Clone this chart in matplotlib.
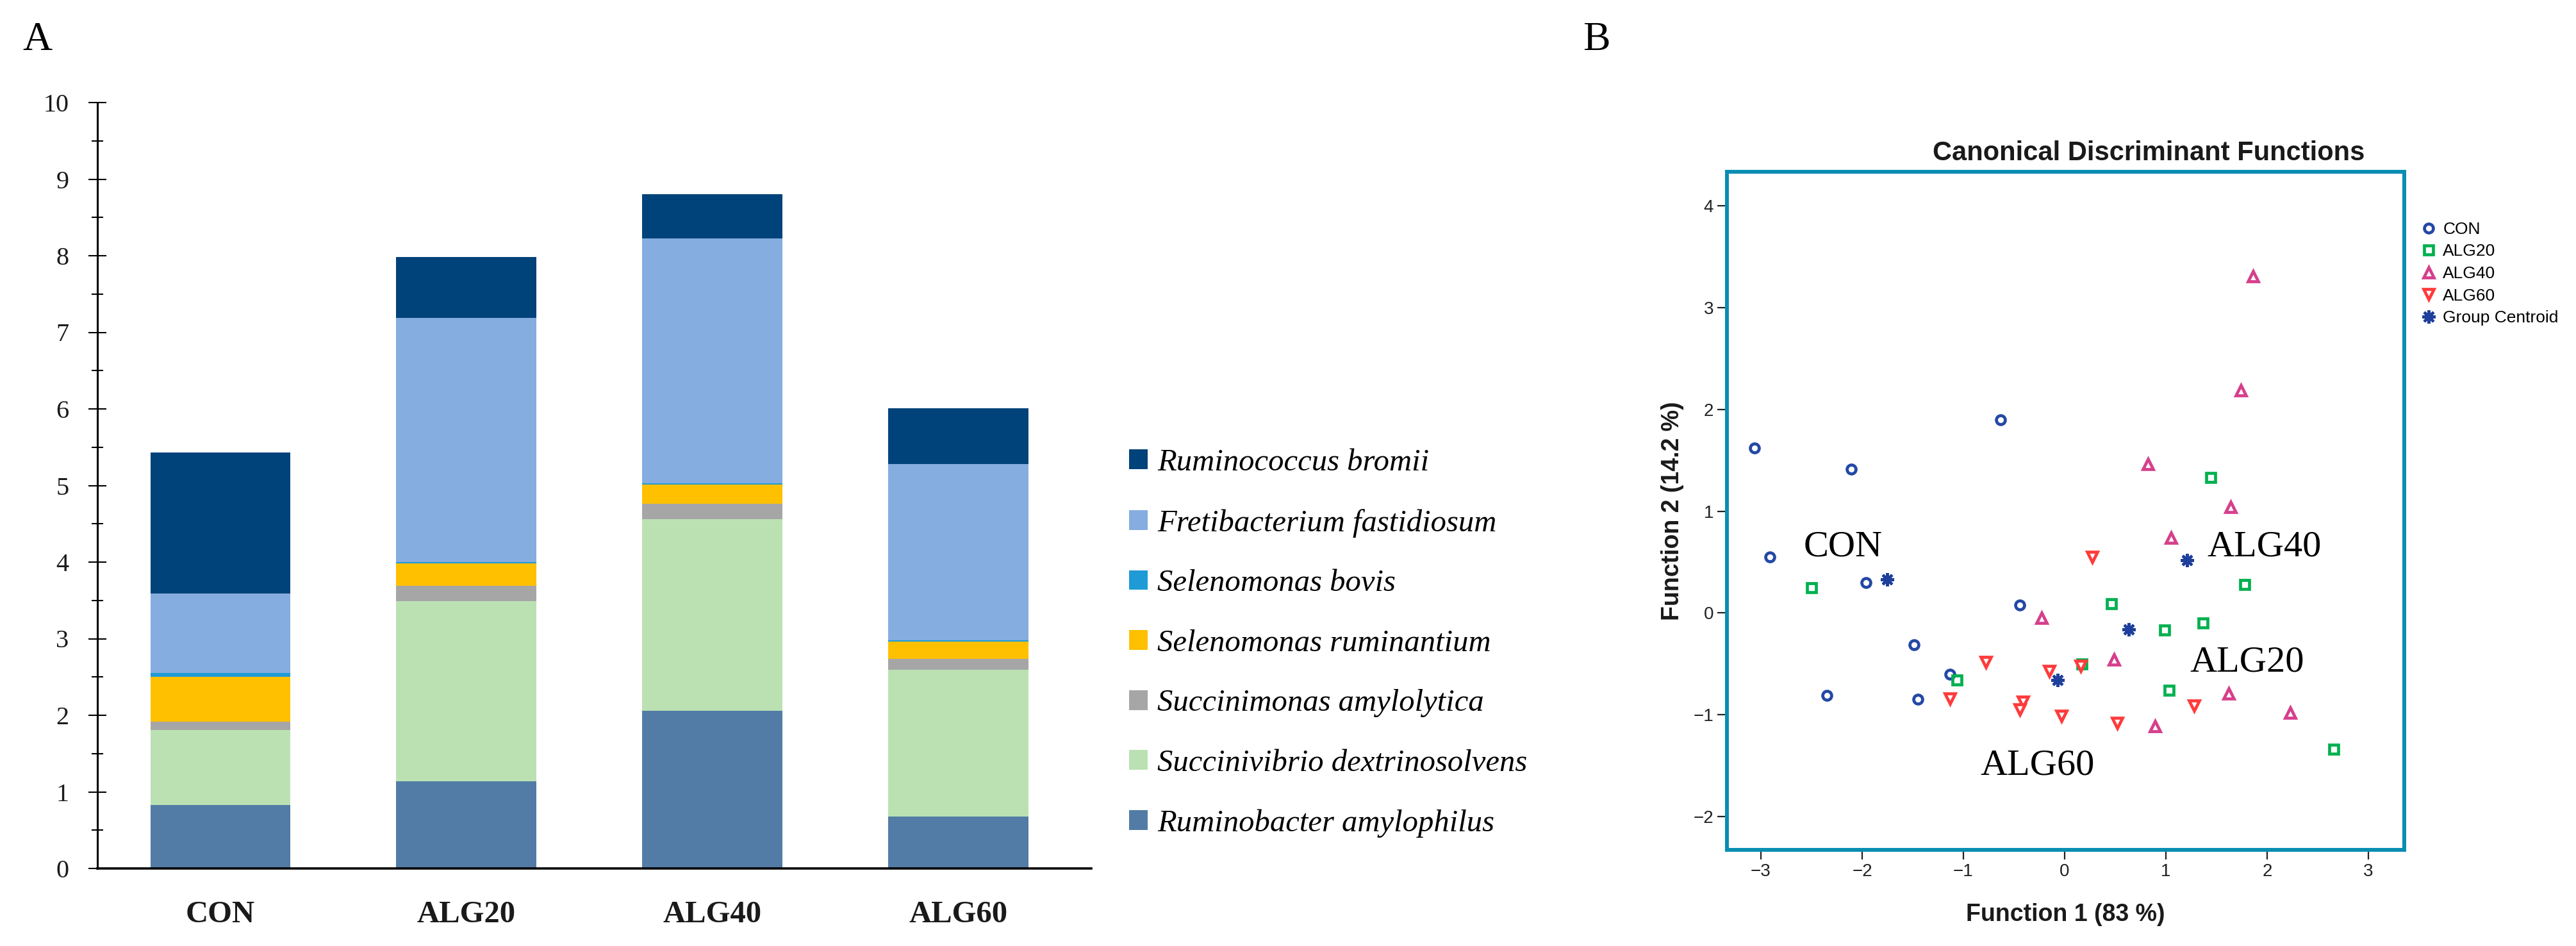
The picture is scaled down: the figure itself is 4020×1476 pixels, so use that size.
import numpy as np
import matplotlib
matplotlib.use("Agg")
import matplotlib.pyplot as plt
from matplotlib.patches import Patch
from matplotlib.lines import Line2D
from matplotlib.ticker import MultipleLocator

# ---- panel A: stacked abundance of selected rumen species ----
groups = ["CON", "ALG20", "ALG40", "ALG60"]
species = ["Ruminobacter amylophilus", "Succinivibrio dextrinosolvens",
           "Succinimonas amylolytica", "Selenomonas ruminantium",
           "Selenomonas bovis", "Fretibacterium fastidiosum", "Ruminococcus bromii"]
r_amylophilus = [0.83, 1.14, 2.06, 0.68]
s_dextrinosolvens = [0.98, 2.35, 2.50, 1.91]
s_amylolytica = [0.11, 0.20, 0.20, 0.15]
s_ruminantium = [0.58, 0.29, 0.25, 0.22]
s_bovis = [0.05, 0.02, 0.02, 0.02]
f_fastidiosum = [1.04, 3.19, 3.20, 2.30]
r_bromii = [1.84, 0.79, 0.57, 0.73]
species_colors = ["#527ca6", "#bbe1b3", "#a6a6a6", "#ffc000",
                  "#1e9bd7", "#85addf", "#00427a"]

# ---- panel B: canonical discriminant scores (function 1, function 2) ----
con_f1 = [-3.06, -2.11, -0.63, -2.91, -1.96, -0.44, -1.49, -1.13, -2.35, -1.45]
con_f2 = [1.62, 1.41, 1.90, 0.55, 0.30, 0.08, -0.31, -0.60, -0.81, -0.85]
alg20_f1 = [-2.50, 1.44, 1.78, 0.46, 1.37, 0.99, 0.17, -1.06, 1.03, 2.66]
alg20_f2 = [0.25, 1.33, 0.28, 0.09, -0.10, -0.17, -0.50, -0.66, -0.76, -1.34]
alg40_f1 = [1.86, 1.74, 0.82, 1.64, 1.05, -0.23, 0.49, 1.62, 2.23, 0.89]
alg40_f2 = [3.31, 2.19, 1.46, 1.04, 0.74, -0.05, -0.46, -0.79, -0.98, -1.11]
alg60_f1 = [0.27, -0.78, -0.15, 0.16, -1.13, -0.41, -0.44, -0.03, 0.52, 1.28]
alg60_f2 = [0.55, -0.48, -0.57, -0.52, -0.84, -0.87, -0.95, -1.01, -1.08, -0.91]
centroid_f1 = [-1.75, 0.63, 1.21, -0.07]
centroid_f2 = [0.33, -0.16, 0.52, -0.66]
group_labels = ["CON", "ALG40", "ALG20", "ALG60"]
label_f1 = [-2.19, 1.97, 1.80, -0.27]
label_f2 = [0.56, 0.56, -0.575, -1.59]

plt.rcParams["font.family"] = ["Liberation Serif", "DejaVu Serif"]

W, H = 4020, 1476
fig = plt.figure(figsize=(W / 100, H / 100), dpi=100)

# panel A
ax = fig.add_axes([152 / W, 1 - 1355 / H, 1551 / W, 1195 / H])
series = [r_amylophilus, s_dextrinosolvens, s_amylolytica, s_ruminantium,
          s_bovis, f_fastidiosum, r_bromii]
x = np.arange(len(groups))
bottom = np.zeros(len(groups))
for vals, col in zip(series, species_colors):
    ax.bar(x, vals, 0.57, bottom=bottom, color=col, linewidth=0)
    bottom += np.array(vals)

ax.set_xlim(-0.5, 3.54)
ax.set_ylim(0, 10)
ax.set_xticks(x)
ax.set_xticklabels(groups, fontsize=35, fontweight="bold", color="#1a1a1a")
ax.set_yticks(range(0, 11))
ax.yaxis.set_minor_locator(MultipleLocator(0.5))
ax.tick_params(axis="y", which="major", direction="inout", length=20, width=1.5,
               pad=22, labelsize=29, labelcolor="#1a1a1a")
ax.tick_params(axis="y", which="minor", direction="inout", length=13, width=1.5)
ax.tick_params(axis="x", length=0, pad=36)
for s in ["top", "right"]:
    ax.spines[s].set_visible(False)
ax.spines["left"].set_linewidth(2.2)
ax.spines["bottom"].set_linewidth(2.6)

handles = [Patch(facecolor=c, edgecolor="none") for c in species_colors][::-1]
fig.legend(handles, species[::-1], loc="center left",
           bbox_to_anchor=(1762 / W, 1 - 1003.5 / H), frameon=False,
           prop={"family": "Liberation Serif", "style": "italic", "size": 35},
           handlelength=0.6, handleheight=0.6, handletextpad=0.31,
           labelspacing=1.02, borderpad=0, borderaxespad=0)

fig.text(35 / W, 1 - 78 / H, "A", fontsize=46, va="baseline")
fig.text(2470 / W, 1 - 78 / H, "B", fontsize=46, va="baseline")

# panel B
sans = "Liberation Sans"
frame = "#0a8db2"
bx = fig.add_axes([2695 / W, 1 - 1326 / H, 1057 / W, 1058 / H])
styles = [
    (con_f1, con_f2, "CON", dict(marker="o", ms=10, mew=3.4, mfc="none", mec="#2448a5")),
    (alg20_f1, alg20_f2, "ALG20", dict(marker="s", ms=10, mew=3.4, mfc="none", mec="#00b04f")),
    (alg40_f1, alg40_f2, "ALG40", dict(marker="^", ms=12, mew=3.4, mfc="white", mec="#d63f8c")),
    (alg60_f1, alg60_f2, "ALG60", dict(marker="v", ms=12, mew=3.4, mfc="white", mec="#ff3b3b")),
    (centroid_f1, centroid_f2, "Group Centroid", dict(marker=(8, 2, 0), ms=15, mew=3.0, mec="#1e3f9b")),
]
leg_handles = []
for fx, fy, name, st in styles:
    bx.plot(fx, fy, linestyle="none", **st)
    leg_handles.append(Line2D([], [], linestyle="none", **st))

for txt, lx, ly in zip(group_labels, label_f1, label_f2):
    bx.text(lx, ly, txt, fontsize=42, ha="center", va="baseline",
            family="Liberation Serif")

bx.set_xlim(-3.335, 3.354)
bx.set_ylim(-2.327, 4.334)
bx.set_xticks(range(-3, 4))
bx.set_yticks(range(-2, 5))
for s in bx.spines.values():
    s.set_color(frame)
    s.set_linewidth(4.3)
bx.tick_params(direction="out", length=11, width=1.6, color="#222222",
               labelsize=20, labelcolor="#222222", pad=4)
for lbl in bx.get_xticklabels() + bx.get_yticklabels():
    lbl.set_family(sans)

fig.text(3353 / W, 1 - 250 / H, "Canonical Discriminant Functions", family=sans,
         fontsize=30, fontweight="bold", ha="center", va="baseline", color="#1a1a1a")
fig.text(3223 / W, 1 - 1437 / H, "Function 1 (83 %)", family=sans,
         fontsize=27, fontweight="bold", ha="center", va="baseline", color="#1a1a1a")
fig.text(2610 / W, 1 - 797 / H, "Function 2 (14.2 %)", family=sans, rotation=90,
         fontsize=27, fontweight="bold", ha="center", va="center", color="#1a1a1a")

fig.legend(leg_handles, [st[2] for st in styles], loc="center left",
           bbox_to_anchor=(3777 / W, 1 - 427 / H), frameon=False,
           prop={"family": sans, "size": 19}, handlelength=1.0,
           handletextpad=0.34, labelspacing=0.40, borderpad=0, borderaxespad=0)

fig.savefig("out.png", dpi=100, facecolor="white")
